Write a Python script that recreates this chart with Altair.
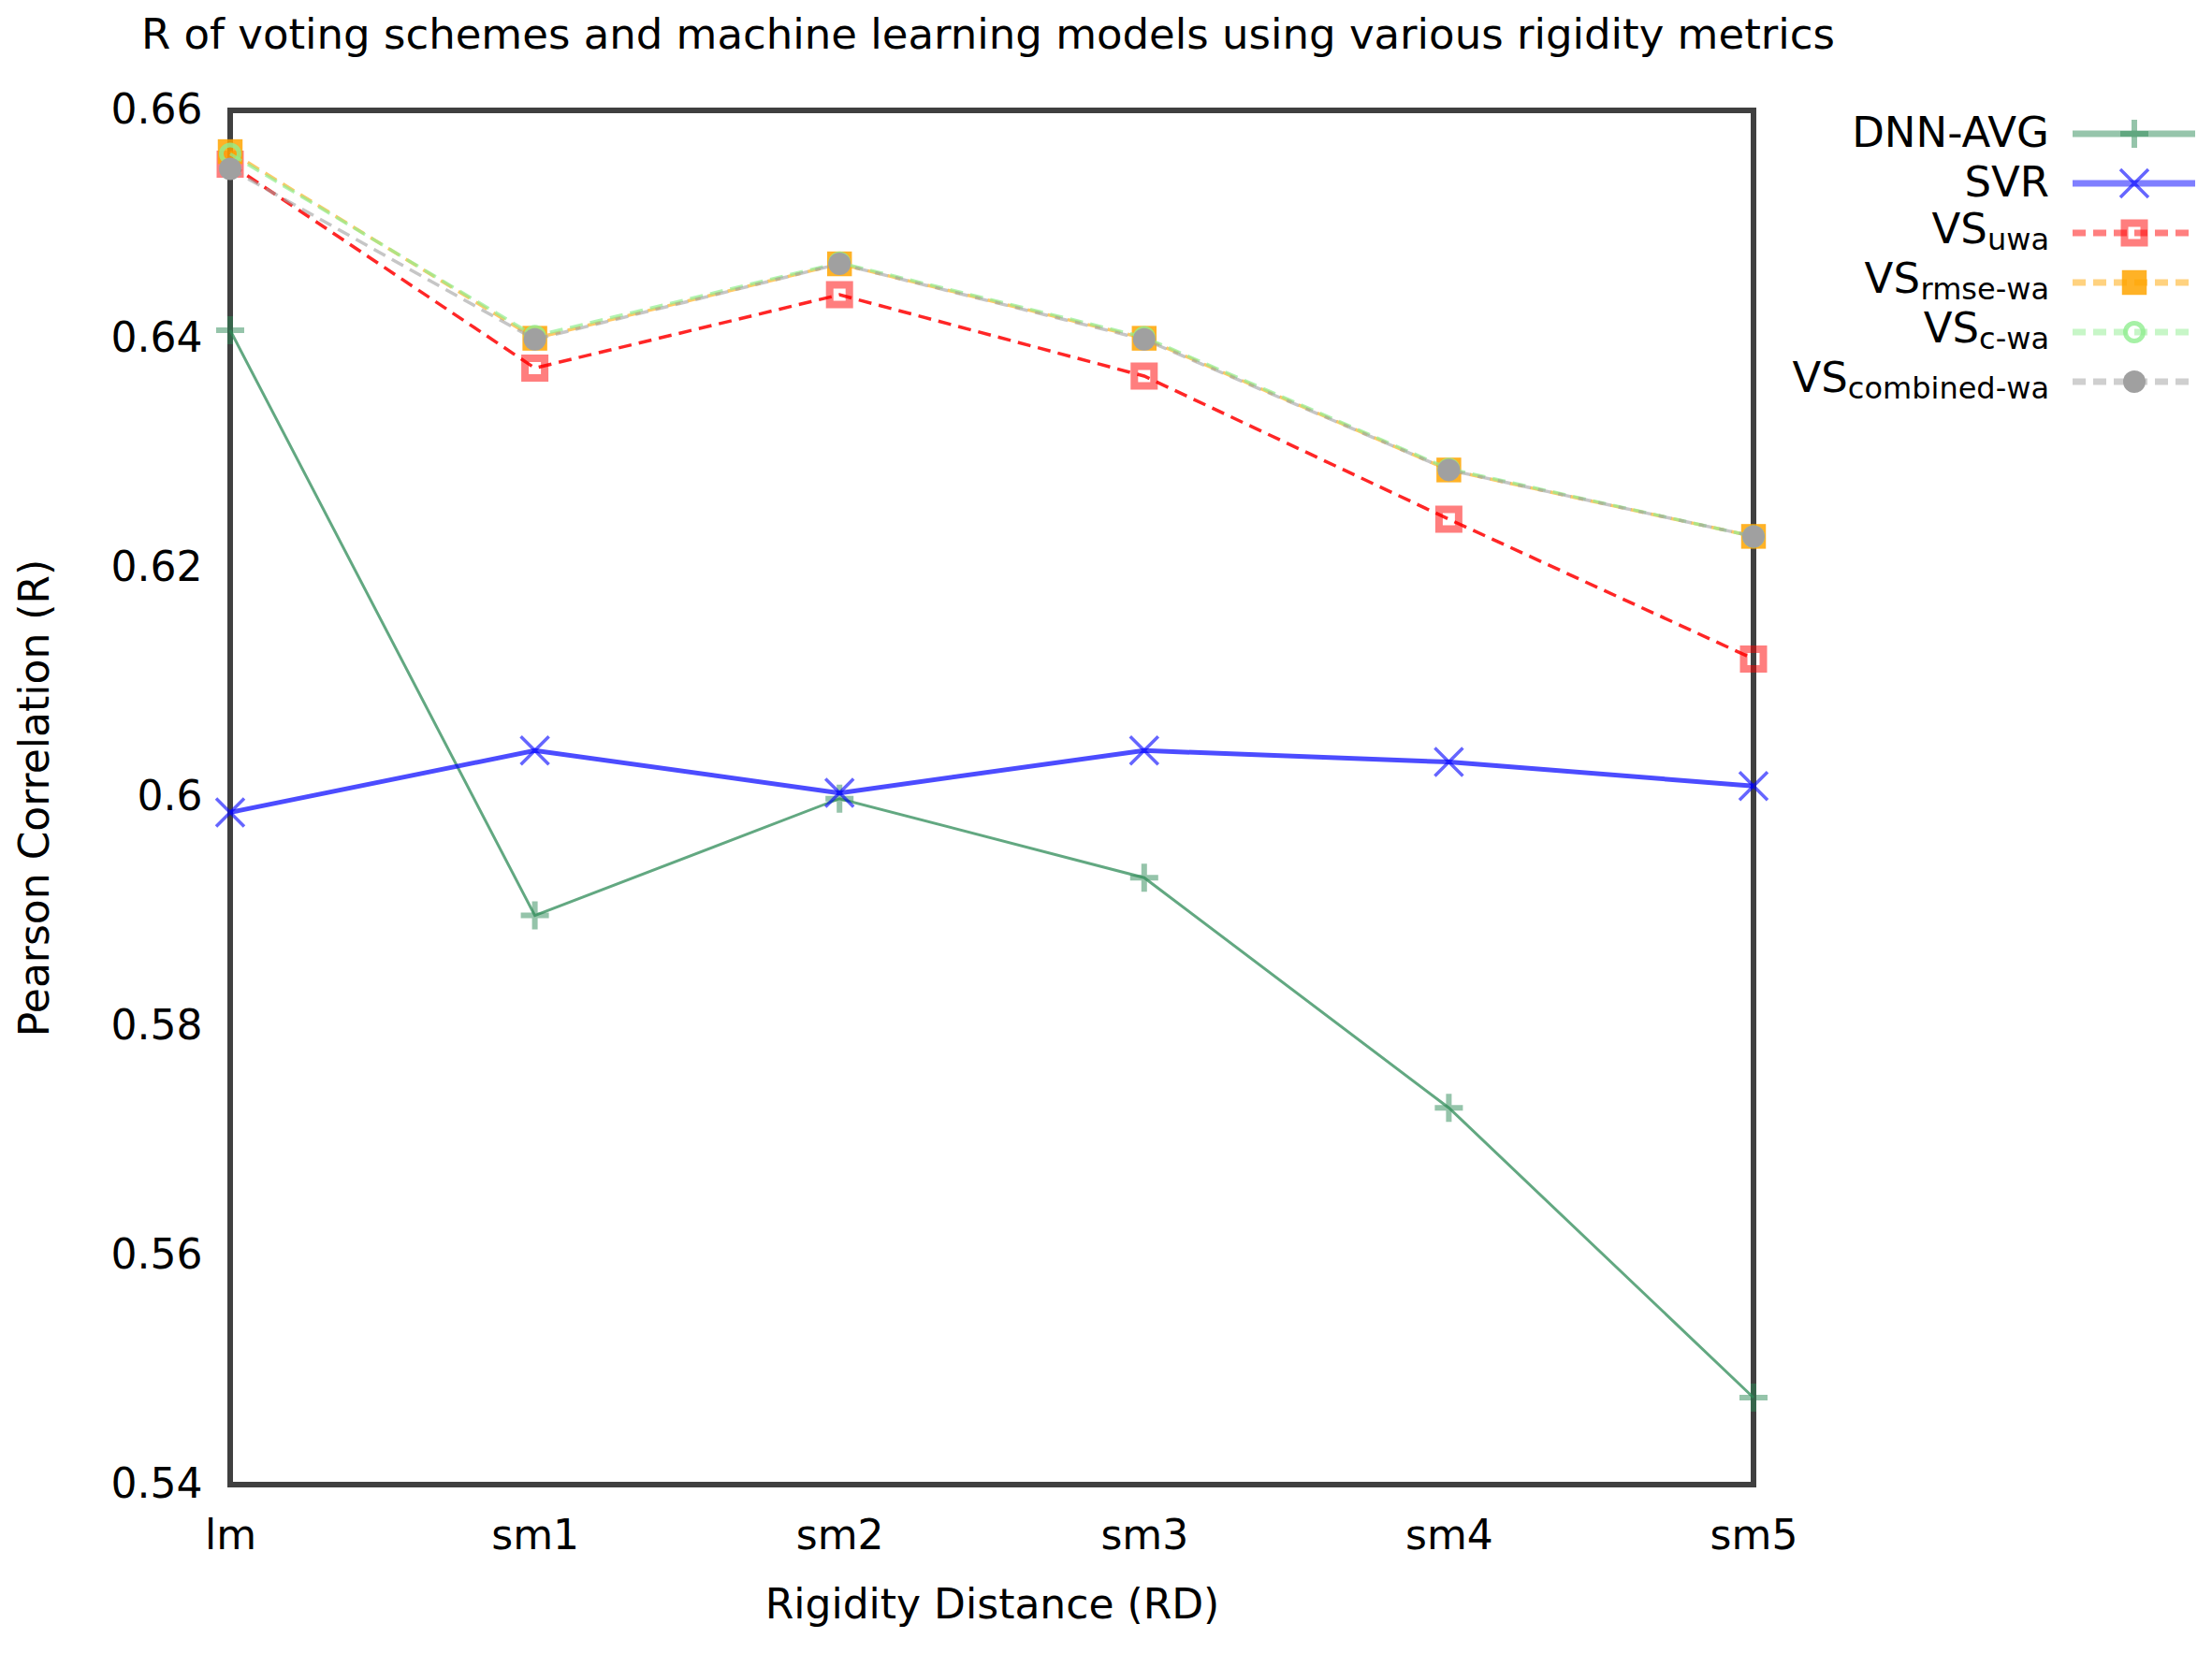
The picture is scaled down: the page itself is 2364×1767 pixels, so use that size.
import altair as alt
import pandas as pd

# ---------------- data ----------------
categories = ["lm", "sm1", "sm2", "sm3", "sm4", "sm5"]
dnn_avg = [0.6408, 0.5897, 0.5999, 0.5930, 0.5729, 0.5476]
svr = [0.5987, 0.6041, 0.6004, 0.6041, 0.6031, 0.6010]
vs_uwa = [0.6553, 0.6375, 0.6439, 0.6368, 0.6243, 0.6121]
vs_rmse_wa = [0.6564, 0.6401, 0.6466, 0.6401, 0.6286, 0.6228]
vs_c_wa = [0.6562, 0.6403, 0.6467, 0.6402, 0.6287, 0.6228]
vs_combined_wa = [0.6549, 0.6400, 0.6466, 0.6400, 0.6286, 0.6228]
y_ticks = [0.54, 0.56, 0.58, 0.60, 0.62, 0.64, 0.66]

title_text = "R of voting schemes and machine learning models using various rigidity metrics"
x_title = "Rigidity Distance (RD)"
y_title = "Pearson Correlation (R)"

FONT = "DejaVu Sans"
W, H = 1628, 1469

series = [
    dict(key="DNN-AVG", vals=dnn_avg, main="DNN-AVG", sub="", color="#2e8b57",
         dash=None, lw=3, lop=0.75,
         pt=dict(shape="M-1,0H1M0,-1V1", size=900, filled=False, strokeWidth=6, opacity=0.5)),
    dict(key="SVR", vals=svr, main="SVR", sub="", color="#0000ff",
         dash=None, lw=5, lop=0.7,
         pt=dict(shape="M-1,-1L1,1M-1,1L1,-1", size=900, filled=False, strokeWidth=3.5, opacity=0.6)),
    dict(key="VS_uwa", vals=vs_uwa, main="VS", sub="uwa", color="#ff0000",
         dash=[14, 8], lw=3.5, lop=0.85,
         pt=dict(shape="square", size=441, filled=False, strokeWidth=8, opacity=0.5)),
    dict(key="VS_rmse-wa", vals=vs_rmse_wa, main="VS", sub="rmse-wa", color="#ffa500",
         dash=[14, 8], lw=3.5, lop=0.6,
         pt=dict(shape="square", size=700, filled=True, opacity=0.85)),
    dict(key="VS_c-wa", vals=vs_c_wa, main="VS", sub="c-wa", color="#90ee90",
         dash=[14, 8], lw=3.5, lop=0.7,
         pt=dict(shape="circle", size=361, filled=False, strokeWidth=5, opacity=0.8)),
    dict(key="VS_combined-wa", vals=vs_combined_wa, main="VS", sub="combined-wa", color="#a0a0a0",
         dash=[14, 8], lw=3.5, lop=0.6,
         pt=dict(shape="circle", size=576, filled=True, opacity=1.0)),
]

rows = []
for s in series:
    for c, v in zip(categories, s["vals"]):
        rows.append({"series": s["key"], "rd": c, "r": v})
df = pd.DataFrame(rows)

x_enc = alt.X("rd:N", sort=categories,
              scale=alt.Scale(type="point", padding=0),
              axis=alt.Axis(title=x_title, labelAngle=0, labelPadding=33,
                            titlePadding=30))
y_enc = alt.Y("r:Q", scale=alt.Scale(domain=[0.54, 0.66], nice=False, zero=False),
              axis=alt.Axis(title=y_title, values=y_ticks, format=".2~f",
                            labelPadding=30, titlePadding=58))

layers = []
for s in series:
    base = alt.Chart(df).transform_filter(alt.datum.series == s["key"])
    line_kw = dict(color=s["color"], strokeWidth=s["lw"], opacity=s["lop"])
    if s["dash"]:
        line_kw["strokeDash"] = s["dash"]
    layers.append(base.mark_line(**line_kw).encode(x=x_enc, y=y_enc))
    p = dict(s["pt"])
    p["color"] = s["color"]
    layers.append(base.mark_point(**p).encode(x=x_enc, y=y_enc))

one = pd.DataFrame({"k": [0]})

# ---------------- chart title (as a text mark above the plot) ----------------
layers.append(alt.Chart(one).mark_text(
    align="center", baseline="alphabetic", font=FONT, fontSize=45, color="black"
).encode(x=alt.value(810), y=alt.value(-66), text=alt.value(title_text)))

# ---------------- legend (drawn to the right of the plot) ----------------
ADV = {  # DejaVu Sans advance widths (em)
    "a": .613, "b": .635, "c": .550, "d": .635, "e": .615, "i": .278, "m": .974,
    "n": .634, "o": .612, "r": .411, "s": .521, "u": .634, "w": .818, "-": .361,
}
def text_width(t, size):
    return sum(ADV.get(ch, .6) for ch in t) * size

legend_rows = [25, 78, 131, 184, 237, 290]
TXT_RIGHT = 1944
LINE_X0, LINE_X1, MARK_X = 1969, 2100, 2035
SUB_SIZE = 32
MAIN_SIZE = 45

for s, ry in zip(series, legend_rows):
    rk = dict(color=s["color"], strokeWidth=7, opacity=0.5)
    if s["dash"]:
        rk["strokeDash"] = s["dash"]
    layers.append(alt.Chart(one).mark_rule(**rk).encode(
        x=alt.value(LINE_X0), x2=alt.value(LINE_X1), y=alt.value(ry)))
    p = dict(s["pt"])
    p["color"] = s["color"]
    layers.append(alt.Chart(one).mark_point(**p).encode(
        x=alt.value(MARK_X), y=alt.value(ry)))
    if not s["sub"]:
        layers.append(alt.Chart(one).mark_text(
            align="right", baseline="alphabetic", font=FONT, fontSize=MAIN_SIZE, color="black"
        ).encode(x=alt.value(TXT_RIGHT), y=alt.value(ry + 14), text=alt.value(s["main"])))
    else:
        sw = text_width(s["sub"], SUB_SIZE)
        layers.append(alt.Chart(one).mark_text(
            align="right", baseline="alphabetic", font=FONT, fontSize=SUB_SIZE, color="black"
        ).encode(x=alt.value(TXT_RIGHT), y=alt.value(ry + 18), text=alt.value(s["sub"])))
        layers.append(alt.Chart(one).mark_text(
            align="right", baseline="alphabetic", font=FONT, fontSize=MAIN_SIZE, color="black"
        ).encode(x=alt.value(TXT_RIGHT - sw), y=alt.value(ry + 11), text=alt.value(s["main"])))

chart = alt.layer(*layers).properties(
    width=W, height=H,
    autosize=alt.AutoSizeParams(type="none"),
    padding={"left": 238, "top": 110, "right": 482, "bottom": 172},
    background="white",
).configure_view(
    stroke="#404040", strokeWidth=6
).configure_axis(
    domain=False, grid=False, ticks=False, tickSize=0,
    labelFont=FONT, labelFontSize=44, labelColor="black",
    titleFont=FONT, titleFontSize=44, titleFontWeight="normal", titleColor="black",
)

chart.save("out.html", embed_options={"renderer": "svg", "actions": False})
